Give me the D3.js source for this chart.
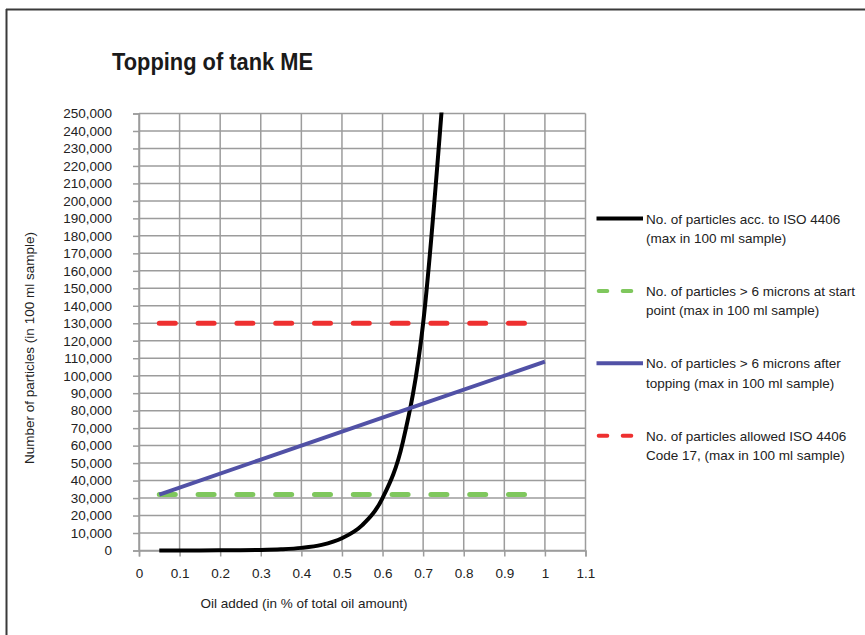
<!DOCTYPE html>
<html>
<head>
<meta charset="utf-8">
<script src="https://cdn.jsdelivr.net/npm/d3@7"></script>
<style>
    body { margin: 0; background: #fff; }
    svg { display: block; }
</style>
</head>
<body>
<div id="content"></div>
<script>
const title = 'Topping of tank ME'
const xTitle = 'Oil added (in % of total oil amount)'
const yTitle = 'Number of particles (in 100 ml sample)'

const xTicks = [0, 0.1, 0.2, 0.3, 0.4, 0.5, 0.6, 0.7, 0.8, 0.9, 1, 1.1]
const yTicks = [0, 10000, 20000, 30000, 40000, 50000, 60000, 70000, 80000, 90000, 100000,
    110000, 120000, 130000, 140000, 150000, 160000, 170000, 180000, 190000, 200000,
    210000, 220000, 230000, 240000, 250000]

// ISO 4406 curve (clipped at 250,000 in the chart)
const isoX = [0.05, 0.1, 0.15, 0.2, 0.25, 0.3, 0.35, 0.4, 0.45, 0.5, 0.55, 0.6, 0.65, 0.7, 0.75]
const isoY = [0, 20, 40, 80, 170, 350, 730, 1500, 3200, 7000, 14500, 30000, 62000, 130000, 265000]

const startX = [0.05, 0.95]
const startY = [32000, 32000]

const afterX = [0.05, 0.3, 0.5, 0.7, 1.0]
const afterY = [32000, 52000, 68000, 84000, 108000]

const allowedX = [0.05, 0.95]
const allowedY = [130000, 130000]

const legendLabels = [
    ['No. of particles acc. to ISO 4406', '(max in 100 ml sample)'],
    ['No. of particles > 6 microns at start', 'point (max in 100 ml sample)'],
    ['No. of particles > 6 microns after', 'topping (max in 100 ml sample)'],
    ['No. of particles allowed ISO 4406', 'Code 17, (max in 100 ml sample)']
]

const width = 865
const height = 635
const font = '"Liberation Sans", Arial, Helvetica, sans-serif'
const gridColor = '#9c9c9c'

const series = [
    { xs: isoX, ys: isoY, color: '#000000', dash: null, width: 4, curve: d3.curveMonotoneX },
    { xs: startX, ys: startY, color: '#7fc75d', dash: '16,22.8', width: 5, curve: d3.curveLinear },
    { xs: afterX, ys: afterY, color: '#5151a6', dash: null, width: 4, curve: d3.curveLinear },
    { xs: allowedX, ys: allowedY, color: '#ee3030', dash: '16,22.8', width: 5, curve: d3.curveLinear }
]

const svg = d3.select('#content')
    .append('svg')
    .attr('width', width)
    .attr('height', height)

// frame (top and left edges visible)
svg.append('line')
    .attr('x1', 6).attr('x2', width).attr('y1', 9.5).attr('y2', 9.5)
    .attr('stroke', '#3a3a3a').attr('stroke-width', 2)
svg.append('line')
    .attr('x1', 6.5).attr('x2', 6.5).attr('y1', 9).attr('y2', height)
    .attr('stroke', '#3a3a3a').attr('stroke-width', 2)

svg.append('text')
    .text(title)
    .attr('x', 112)
    .attr('y', 70)
    .attr('font-family', font)
    .attr('font-weight', 'bold')
    .attr('font-size', 23)
    .attr('textLength', 201)
    .attr('lengthAdjust', 'spacingAndGlyphs')
    .attr('fill', '#1a1a1a')

const scaleX = d3.scaleLinear()
    .domain([0, 1.1])
    .range([139, 585.5])

const scaleY = d3.scaleLinear()
    .domain([0, 250000])
    .range([550.5, 113.5])

// Grid
const grid = svg.append('g').attr('id', 'grid')

grid.selectAll('line.h')
    .data(yTicks)
    .join('line')
    .attr('class', 'h')
    .attr('x1', scaleX(0))
    .attr('x2', scaleX(1.1))
    .attr('y1', d => scaleY(d))
    .attr('y2', d => scaleY(d))
    .attr('stroke', gridColor)
    .attr('stroke-width', 1.5)

grid.selectAll('line.v')
    .data(xTicks)
    .join('line')
    .attr('class', 'v')
    .attr('x1', d => scaleX(d))
    .attr('x2', d => scaleX(d))
    .attr('y1', scaleY(0))
    .attr('y2', scaleY(250000))
    .attr('stroke', gridColor)
    .attr('stroke-width', 1.5)

// Axes
const yAxis = svg.append('g')
    .attr('transform', `translate(${scaleX(0)},0)`)
    .call(d3.axisLeft(scaleY)
        .tickValues(yTicks)
        .tickSize(6)
        .tickPadding(21)
        .tickFormat(d3.format(',')))

const xAxis = svg.append('g')
    .attr('transform', `translate(0,${scaleY(0)})`)
    .call(d3.axisBottom(scaleX)
        .tickValues(xTicks)
        .tickSize(6)
        .tickPadding(12)
        .tickFormat(d => `${d}`))

;[yAxis, xAxis].forEach(ax => {
    ax.select('.domain').attr('stroke', gridColor).attr('stroke-width', 1.5)
    ax.selectAll('.tick line').attr('stroke', gridColor).attr('stroke-width', 1.5)
    ax.selectAll('.tick text')
        .attr('font-family', font)
        .attr('font-size', 13.5)
        .attr('fill', '#222')
})

svg.append('text')
    .text(xTitle)
    .attr('x', 304)
    .attr('y', 608)
    .attr('text-anchor', 'middle')
    .attr('font-family', font)
    .attr('font-size', 13.5)
    .attr('fill', '#222')

svg.append('text')
    .text(yTitle)
    .attr('transform', 'translate(34,348) rotate(-90)')
    .attr('text-anchor', 'middle')
    .attr('font-family', font)
    .attr('font-size', 13.5)
    .attr('fill', '#222')

// Lines
svg.append('clipPath')
    .attr('id', 'plot-clip')
    .append('rect')
    .attr('x', scaleX(0))
    .attr('y', scaleY(250000) - 1)
    .attr('width', scaleX(1.1) - scaleX(0))
    .attr('height', scaleY(0) - scaleY(250000) + 6)

const lines = svg.append('g')
    .attr('id', 'lines')
    .attr('clip-path', 'url(#plot-clip)')

lines.selectAll('path')
    .data(series)
    .join('path')
    .attr('d', s => d3.line()
        .x((d, i) => scaleX(s.xs[i]))
        .y(d => scaleY(d))
        .curve(s.curve)(s.ys))
    .attr('fill', 'none')
    .attr('stroke', s => s.color)
    .attr('stroke-width', s => s.width)
    .attr('stroke-dasharray', s => s.dash)
    .attr('stroke-linecap', s => s.dash ? 'round' : 'butt')
    .attr('stroke-linejoin', 'round')

// Legend
const legend = svg.append('g').attr('id', 'legend')

const legendItems = legend.selectAll('g')
    .data(series)
    .join('g')
    .attr('transform', (d, i) => `translate(0,${218.5 + i * 72.4})`)

legendItems.append('line')
    .attr('x1', s => s.dash ? 598.7 : 596.5)
    .attr('x2', s => s.dash ? 640.5 : 643)
    .attr('y1', 0)
    .attr('y2', 0)
    .attr('stroke', s => s.color)
    .attr('stroke-width', 4)
    .attr('stroke-dasharray', s => s.dash ? '8.6,15.4' : null)
    .attr('stroke-linecap', s => s.dash ? 'round' : 'butt')

legendItems.each(function (s, i) {
    const g = d3.select(this)
    legendLabels[i].forEach((t, j) => {
        g.append('text')
            .text(t)
            .attr('x', 646)
            .attr('y', 5 + j * 19.5)
            .attr('font-family', font)
            .attr('font-size', 13.5)
            .attr('fill', '#222')
    })
})
</script>
</body>
</html>
